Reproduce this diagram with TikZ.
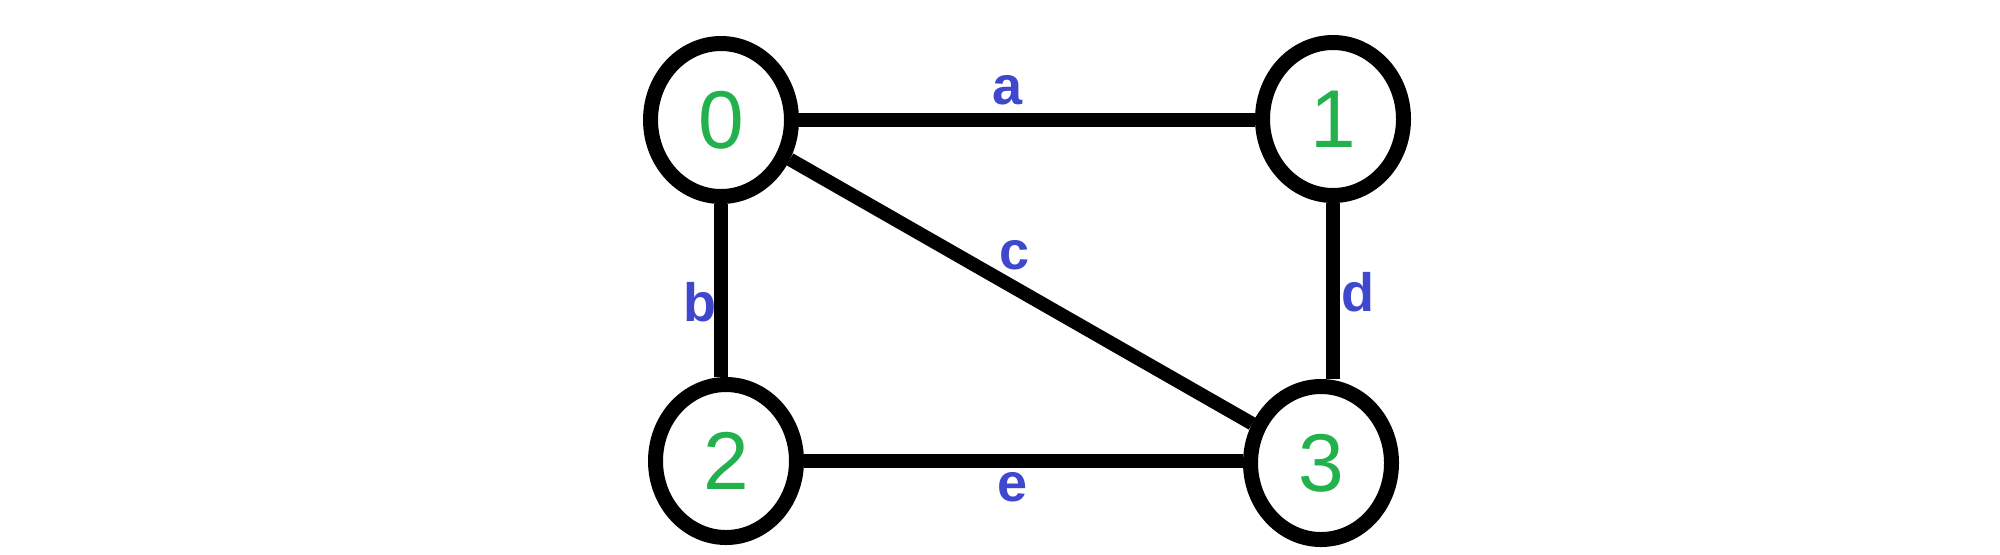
\documentclass[tikz,border=0pt]{standalone}
\usepackage{fontspec}
\setmainfont{Liberation Sans}
\usetikzlibrary{shapes.geometric}
\definecolor{paintgreen}{RGB}{34,177,76}
\definecolor{paintblue}{RGB}{63,72,204}
\tikzset{
  vert/.style={ellipse,draw=black,line width=7.5pt,minimum width=70.5pt,minimum height=76.5pt,inner sep=0pt,
    text=paintgreen,font=\fontsize{41pt}{41pt}\selectfont},
  edge/.style={draw=black,line width=6.8pt},
  elabel/.style={text=paintblue,font=\bfseries\fontsize{27pt}{27pt}\selectfont,inner sep=0pt}
}
\begin{document}
\begin{tikzpicture}[x=0.5pt,y=-0.5pt]
\useasboundingbox[fill=white] (0,0) rectangle (2000,554);
\node[vert] (n0) at (721,120) {0};
\node[vert] (n1) at (1333,119) {1};
\node[vert] (n2) at (726,461) {2};
\node[vert] (n3) at (1321,463) {3};
\draw[edge] (n0.east) -- (n0.east -| n1.west);
\draw[edge] (n0.south) -- (n0.south |- n2.north);
\draw[edge] (n0) -- (n3);
\draw[edge] (n1.south) -- (n1.south |- n3.north);
\draw[edge] (n2.east) -- (n2.east -| n3.west);
\node[elabel] (la) at (1007,90) {a};
\node[elabel] (lb) at (700,302) {b};
\node[elabel] (lc) at (1015,255) {c};
\node[elabel] (ld) at (1358,292) {d};
\node[elabel] (le) at (1012,487) {e};
\end{tikzpicture}
\end{document}
